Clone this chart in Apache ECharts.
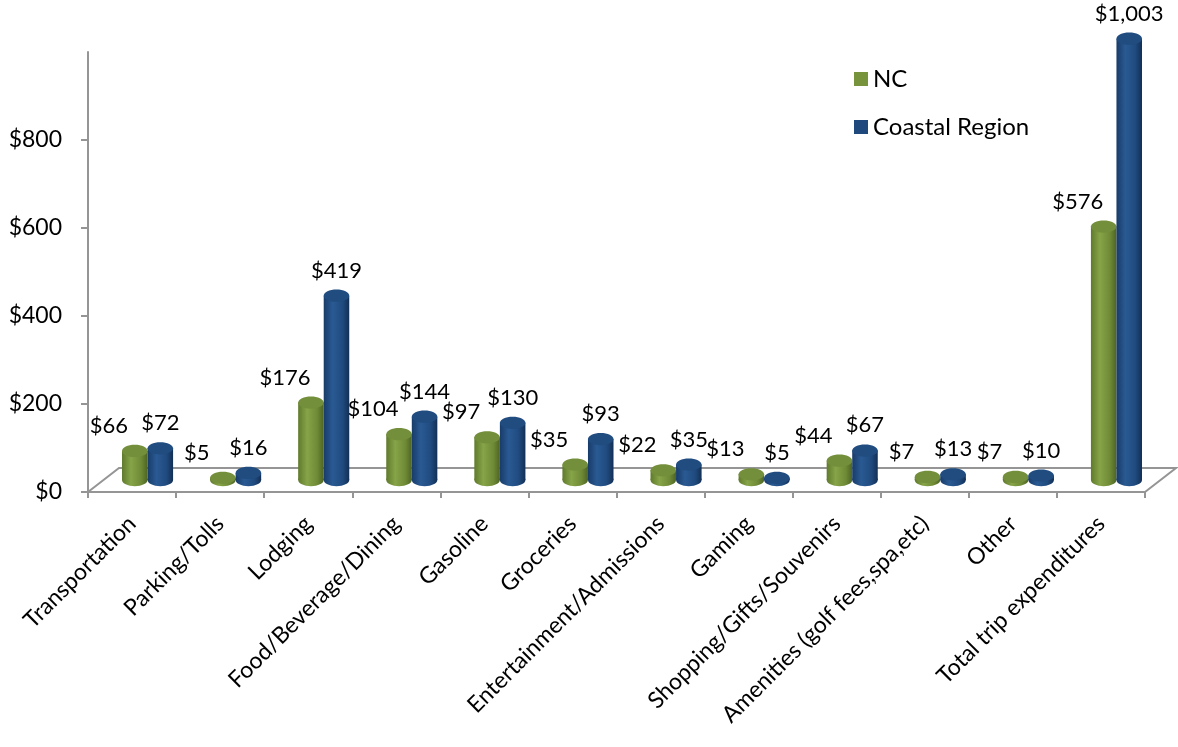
<!DOCTYPE html>
<html>
<head>
<meta charset="utf-8">
<script src="https://cdn.jsdelivr.net/npm/echarts@6/dist/echarts.min.js"></script>
<style>
  html, body { margin: 0; padding: 0; background: #ffffff; }
  #chart { width: 1178px; height: 747px; }
</style>
</head>
<body>
<div id="chart"></div>
<script>
// Average trip spending per party, by category
const categories = [
  'Transportation', 'Parking/Tolls', 'Lodging', 'Food/Beverage/Dining',
  'Gasoline', 'Groceries', 'Entertainment/Admissions', 'Gaming',
  'Shopping/Gifts/Souvenirs', 'Amenities (golf fees,spa,etc)', 'Other',
  'Total trip expenditures'
];
const ncValues      = [66, 5, 176, 104, 97, 35, 22, 13, 44, 7, 7, 576];
const coastalValues = [72, 16, 419, 144, 130, 93, 35, 5, 67, 13, 10, 1003];
const seriesNames   = ['NC', 'Coastal Region'];
const yTickValues   = [0, 200, 400, 600, 800];

const FONT = 'Lato, "Open Sans", sans-serif';
const AXIS_GREY = '#959595';

// plot frame and the depth of the 3-D floor
const GRID = { left: 88, right: 33, top: 52, bottom: 255 };
const DEPTH = { dx: 31, dy: -24 };

const PALETTES = {
  green: {
    legend: '#77933C',
    top: '#748f3b',
    body: [
      { offset: 0, color: '#5f7a2c' },
      { offset: 0.35, color: '#86a448' },
      { offset: 0.75, color: '#6f8a36' },
      { offset: 1, color: '#4d6424' }
    ]
  },
  blue: {
    legend: '#1F497D',
    top: '#214c80',
    body: [
      { offset: 0, color: '#183c69' },
      { offset: 0.35, color: '#2a5a93' },
      { offset: 0.75, color: '#1f4a7e' },
      { offset: 1, color: '#132f54' }
    ]
  }
};

function money(v) {
  return '$' + v.toLocaleString('en-US');
}

// draws one cylinder per category, standing at mid-depth of the floor
function cylinder(slot, palette, labelShift) {
  return function (params, api) {
    const idx = api.value(0);
    const val = api.value(1);
    const base = api.coord([idx, 0]);
    const tip = api.coord([idx, val]);
    const band = api.size([1, 0])[0];
    const w = band * 0.29;
    const rx = w / 2;
    const ry = w * 0.24;
    const cx = base[0] + DEPTH.dx / 2 + slot * rx;
    const yb = base[1] + DEPTH.dy / 2;
    const yt = tip[1] + DEPTH.dy / 2;
    const bodyFill = { type: 'linear', x: 0, y: 0, x2: 1, y2: 0, colorStops: palette.body };
    return {
      type: 'group',
      children: [
        { type: 'ellipse', shape: { cx: cx, cy: yb, rx: rx, ry: ry }, style: { fill: bodyFill } },
        { type: 'rect', shape: { x: cx - rx, y: yt, width: w, height: Math.max(0, yb - yt) }, style: { fill: bodyFill } },
        { type: 'ellipse', shape: { cx: cx, cy: yt, rx: rx, ry: ry }, style: { fill: palette.top } },
        {
          type: 'text',
          x: cx + labelShift,
          y: yt - ry - 19,
          style: {
            text: money(val),
            fill: '#000000',
            fontSize: 22,
            fontFamily: FONT,
            align: 'center',
            verticalAlign: 'middle'
          }
        }
      ]
    };
  };
}

const chart = echarts.init(document.getElementById('chart'));

const floorLeft = GRID.left;
const floorRight = 1178 - GRID.right;
const floorFront = 747 - GRID.bottom;

chart.setOption({
  backgroundColor: '#ffffff',
  animation: false,
  grid: GRID,
  legend: {
    data: seriesNames,
    orient: 'vertical',
    left: 849,
    top: 62,
    icon: 'rect',
    itemWidth: 14,
    itemHeight: 14,
    itemGap: 24,
    textStyle: { fontSize: 24, fontFamily: FONT, color: '#000000' }
  },
  xAxis: {
    type: 'category',
    data: categories,
    boundaryGap: true,
    axisLine: { lineStyle: { color: AXIS_GREY, width: 2 } },
    axisTick: { show: true, length: 6, lineStyle: { color: AXIS_GREY, width: 2 } },
    axisLabel: {
      interval: 0,
      rotate: 45,
      margin: 28,
      fontSize: 23,
      fontFamily: FONT,
      color: '#000000'
    }
  },
  yAxis: {
    type: 'value',
    min: 0,
    max: 1000,
    splitLine: { show: false },
    axisLine: { show: true, lineStyle: { color: AXIS_GREY, width: 2 } },
    axisTick: { show: true, length: 7, customValues: yTickValues, lineStyle: { color: AXIS_GREY, width: 2 } },
    axisLabel: {
      customValues: yTickValues,
      formatter: v => money(v),
      margin: 26,
      fontSize: 23,
      fontFamily: FONT,
      color: '#000000'
    }
  },
  graphic: [
    {
      type: 'polyline',
      silent: true,
      z: 0,
      shape: {
        points: [
          [floorLeft, floorFront],
          [floorLeft + DEPTH.dx, floorFront + DEPTH.dy],
          [floorRight + DEPTH.dx, floorFront + DEPTH.dy],
          [floorRight, floorFront]
        ]
      },
      style: { stroke: AXIS_GREY, lineWidth: 2, fill: null }
    }
  ],
  series: [
    {
      name: seriesNames[0],
      type: 'custom',
      itemStyle: { color: PALETTES.green.legend },
      renderItem: cylinder(-1, PALETTES.green, -26),
      data: ncValues.map((v, i) => [i, v]),
      z: 3
    },
    {
      name: seriesNames[1],
      type: 'custom',
      itemStyle: { color: PALETTES.blue.legend },
      renderItem: cylinder(1, PALETTES.blue, 0),
      data: coastalValues.map((v, i) => [i, v]),
      z: 4
    }
  ]
});
</script>
</body>
</html>
